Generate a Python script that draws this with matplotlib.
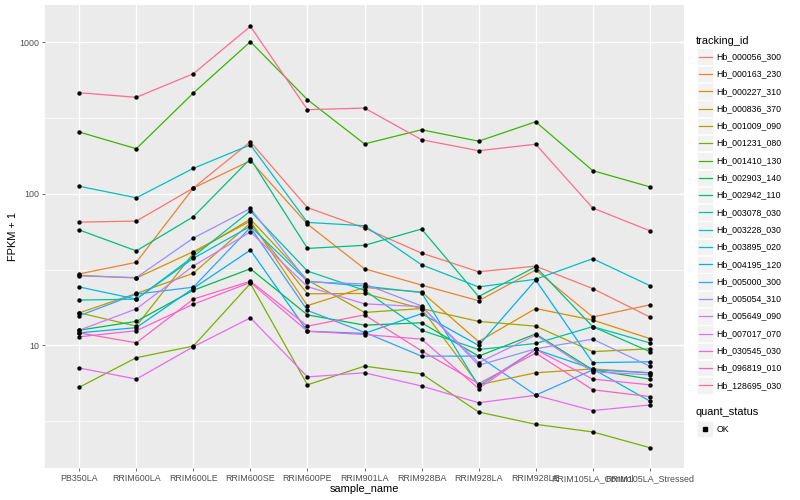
import matplotlib
matplotlib.use("Agg")
import matplotlib.pyplot as plt
from matplotlib.lines import Line2D
from matplotlib.patches import Rectangle
import numpy as np

plt.rcParams['font.family'] = ['Liberation Sans', 'DejaVu Sans']

samples = ["PB350LA", "RRIM600LA", "RRIM600LE", "RRIM600SE", "RRIM600PE", "RRIM901LA",
           "RRIM928BA", "RRIM928LA", "RRIM928LE", "RRIM105LA_Control", "RRIM105LA_Stressed"]

genes = ["Hb_000056_300", "Hb_000163_230", "Hb_000227_310", "Hb_000836_370", "Hb_001009_090",
         "Hb_001231_080", "Hb_001410_130", "Hb_002903_140", "Hb_002942_110", "Hb_003078_030",
         "Hb_003228_030", "Hb_003895_020", "Hb_004195_120", "Hb_005000_300", "Hb_005054_310",
         "Hb_005649_090", "Hb_007017_070", "Hb_030545_030", "Hb_096819_010", "Hb_128695_030"]

colors = ["#F8766D", "#EA8331", "#D89000", "#C09B00", "#A3A500", "#7CAE00", "#39B600", "#00BB4E",
          "#00BF7D", "#00C1A3", "#00BFC4", "#00BAE0", "#00B0F6", "#35A2FF", "#9590FF", "#C77CFF",
          "#E76BF3", "#FA62DB", "#FF62BC", "#FF6C91"]

# FPKM + 1 per gene, in sample order
fpkm = {
    "Hb_000056_300": [65, 66, 109, 220, 81, 59.4, 40.6, 30.6, 33.3, 23.7, 15.4],
    "Hb_000163_230": [29.6, 35.3, 109, 165, 63, 32, 25, 19.7, 31.4, 15.4, 18.5],
    "Hb_000227_310": [29, 27.8, 41.5, 66, 18.3, 24.1, 22.5, 10.6, 17.5, 14.7, 11.1],
    "Hb_000836_370": [16.4, 22, 29.9, 64, 21.9, 22, 17.5, 5.5, 6.6, 7.0, 6.6],
    "Hb_001009_090": [16.4, 13.4, 40.5, 68, 27, 16.5, 17.5, 14.4, 13.4, 9.1, 9.5],
    "Hb_001231_080": [5.3, 8.3, 9.9, 25.6, 5.5, 7.3, 6.5, 3.64, 3.02, 2.69, 2.12],
    "Hb_001410_130": [255, 198, 461, 1004, 417, 213, 264, 222, 298, 142, 111],
    "Hb_002903_140": [12.6, 14.4, 23.1, 32, 15.9, 13.6, 14.1, 8.5, 11.9, 6.9, 6.0],
    "Hb_002942_110": [57.7, 42, 70.5, 170, 43.6, 45.7, 58.5, 21, 33, 13.3, 9.1],
    "Hb_003078_030": [19.9, 20.2, 38.5, 77, 30.9, 23.1, 12.6, 9.4, 10.3, 13.3, 10.4],
    "Hb_003228_030": [112, 94, 147, 210, 64.7, 61.5, 34, 24.3, 27.3, 37.3, 24.8],
    "Hb_003895_020": [24.3, 20.2, 37.5, 61, 26.5, 24.6, 22.3, 5.4, 9.4, 7.0, 4.3],
    "Hb_004195_120": [12.1, 13.1, 23.8, 42.5, 12.4, 12.0, 16.2, 10.0, 27, 7.7, 7.8],
    "Hb_005000_300": [15.7, 21.8, 24.2, 60, 17, 12.2, 8.5, 8.5, 4.7, 6.9, 6.6],
    "Hb_005054_310": [28.7, 28, 51, 80, 26.3, 25.4, 18.2, 7.4, 9.5, 11, 7.3],
    "Hb_005649_090": [12.6, 17.4, 33.4, 56, 24.4, 18.8, 18.0, 7.7, 11.7, 6.7, 6.4],
    "Hb_007017_070": [7.1, 6.0, 9.8, 15.2, 6.2, 6.6, 5.4, 4.19, 4.69, 3.72, 4.05],
    "Hb_030545_030": [11.4, 12.5, 18.7, 26, 12.4, 11.8, 11.0, 5.2, 9.4, 6.0, 5.5],
    "Hb_096819_010": [12.1, 10.4, 20.2, 26.5, 13.4, 15.9, 9.2, 5.6, 8.9, 5.1, 4.6],
    "Hb_128695_030": [463, 432, 618, 1268, 358, 367, 227, 192, 212, 80.5, 57],
}

fig = plt.figure(figsize=(8, 5), dpi=100)
ax = fig.add_axes([45 / 800, 1 - 468 / 500, (684 - 45) / 800, (468 - 5) / 500])
ax.set_facecolor("#EBEBEB")
for s in ax.spines.values():
    s.set_visible(False)

x = np.arange(len(samples))
for g, c in zip(genes, colors):
    ax.plot(x, fpkm[g], color=c, lw=0.9, zorder=2)
for g in genes:
    ax.scatter(x, fpkm[g], s=10, color="black", marker="o", zorder=3, linewidths=0)

ax.set_yscale("log")
ax.set_ylim(10 ** 0.192, 10 ** 3.244)
ax.set_xlim(-0.6, len(samples) - 0.4)
ax.set_yticks([10, 100, 1000])
ax.set_yticklabels(["10", "100", "1000"])
ax.set_yticks([10 ** 0.5, 10 ** 1.5, 10 ** 2.5], minor=True)
ax.set_xticks(x)
ax.set_xticklabels(samples)
ax.tick_params(axis="both", which="major", length=2.2, width=0.5, color="#333333",
               labelsize=6.4, labelcolor="#4D4D4D", pad=2)
ax.tick_params(axis="y", which="minor", length=0, labelleft=False)
ax.grid(True, which="major", color="white", lw=1.0)
ax.grid(True, which="minor", axis="y", color="white", lw=0.5)
ax.set_axisbelow(True)

ax.set_xlabel("sample_name", fontsize=7.9, labelpad=1)
ax.set_ylabel("FPKM + 1", fontsize=7.9, labelpad=1)

# legend (tracking_id)
def fy(py):
    return 1 - py / 500

fig.text(696 / 800, fy(40.5), "tracking_id", fontsize=7.9, va="center", ha="left")
for i, (g, c) in enumerate(zip(genes, colors)):
    yc = 56.7 + i * 17.3
    fig.patches.append(Rectangle((697 / 800, fy(yc + 8.3)), 16 / 800, 16.6 / 500,
                                 transform=fig.transFigure, facecolor="#F2F2F2", edgecolor="white", lw=0.5))
    fig.lines.append(Line2D([698.5 / 800, 712 / 800], [fy(yc), fy(yc)], transform=fig.transFigure,
                            color=c, lw=0.9))
    fig.text(716.5 / 800, fy(yc), g, fontsize=6.3, va="center", ha="left")

fig.text(696 / 800, fy(412), "quant_status", fontsize=7.9, va="center", ha="left")
fig.patches.append(Rectangle((697 / 800, fy(429 + 8.3)), 16 / 800, 16.6 / 500,
                             transform=fig.transFigure, facecolor="#F2F2F2", edgecolor="white", lw=0.5))
fig.lines.append(Line2D([705 / 800], [fy(429)], transform=fig.transFigure, color="black",
                        marker="s", markersize=2.3, lw=0))
fig.text(716.5 / 800, fy(429), "OK", fontsize=6.3, va="center", ha="left")

fig.savefig("out.png", dpi=100)
